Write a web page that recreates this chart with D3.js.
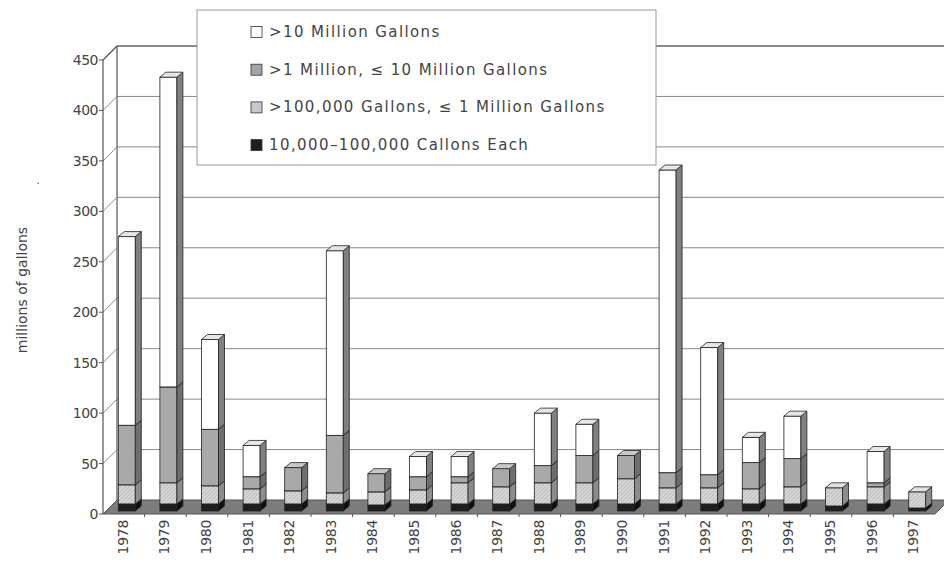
<!DOCTYPE html>
<html>
<head>
<meta charset="utf-8">
<script src="https://cdn.jsdelivr.net/npm/d3@7"></script>
<style>
  body { margin: 0; background: #fff; }
  svg text { font-family: "DejaVu Sans", sans-serif; fill: #444; }
</style>
</head>
<body>
<div id="chart"></div>
<script>
// data (millions of gallons)
const years = ["1978","1979","1980","1981","1982","1983","1984","1985","1986","1987",
               "1988","1989","1990","1991","1992","1993","1994","1995","1996","1997"];
const small = [7,7,7,7,7,7,6,7,7,7,7,7,7,7,7,7,7,5,7,3];            // 10,000-100,000
const mid   = [19,21,18,15,13,11,13,14,21,17,21,21,25,16,16,15,17,18,17,16]; // >100,000 <=1M
const large = [59,95,56,12,23,57,18,13,6,18,17,27,23,15,13,26,28,0,4,0];    // >1M <=10M
const huge  = [187,307,89,31,0,183,0,20,20,0,52,31,0,300,126,25,42,0,31,0]; // >10M
const yTicks = [0,50,100,150,200,250,300,350,400,450];

const keys = ["small","mid","large","huge"];
const legendLabels = [
  ">10 Million Gallons",
  ">1 Million, \u2264 10 Million Gallons",
  ">100,000 Gallons, \u2264 1 Million Gallons",
  "10,000\u2013100,000 Callons Each"
];
const legendKeys = ["huge","large","mid","small"];

const rows = years.map((yr, i) => ({year: yr, small: small[i], mid: mid[i], large: large[i], huge: huge[i]}));

const W = 944, H = 561;
const svg = d3.select("#chart").append("svg").attr("width", W).attr("height", H);

const defs = svg.append("defs");
const pat = defs.append("pattern")
  .attr("id", "hatch").attr("patternUnits", "userSpaceOnUse")
  .attr("width", 4).attr("height", 4);
pat.append("rect").attr("width", 4).attr("height", 4).attr("fill", "#d4d4d4");
pat.append("path").attr("d", "M-1,1 l2,-2 M0,4 l4,-4 M3,5 l2,-2")
  .attr("stroke", "#b0b0b0").attr("stroke-width", 0.7);

const frontFill = {small: "#1e1e1e", mid: "url(#hatch)", large: "#a9a9a9", huge: "#ffffff"};
const sideFill  = {small: "#111", mid: "#8c8c8c", large: "#6e6e6e", huge: "#808080"};
const topFill   = {small: "#444", mid: "#e2e2e2", large: "#c8c8c8", huge: "#e6e6e6"};
const swatch = {small: "#1e1e1e", mid: "#c8c8c8", large: "#a4a4a4", huge: "#ffffff"};

const x = d3.scaleBand().domain(years).range([103, 935]);
const y = d3.scaleLinear().domain([0, 450]).range([514, 60]);

// 3D offsets
const wdx = 14, wdy = -14;   // wall depth
const pdx = 3, pdy = -3;     // bar placement
const bdx = 6, bdy = -5;     // bar depth
const bw = 17;

// back wall gridlines
svg.append("g").selectAll("line").data(yTicks.slice(1)).join("line")
  .attr("x1", 103 + wdx).attr("x2", W)
  .attr("y1", d => y(d) + wdy).attr("y2", d => y(d) + wdy)
  .attr("stroke", "#8a8a8a").attr("stroke-width", 1);

// left wall
svg.append("line").attr("x1", 103 + wdx).attr("x2", 103 + wdx)
  .attr("y1", y(450) + wdy).attr("y2", y(0) + wdy)
  .attr("stroke", "#555").attr("stroke-width", 1.2);
svg.append("g").selectAll("line").data(yTicks).join("line")
  .attr("x1", 103).attr("y1", d => y(d))
  .attr("x2", 103 + wdx).attr("y2", d => y(d) + wdy)
  .attr("stroke", "#8a8a8a").attr("stroke-width", 1);

// floor
const fx0 = x.range()[0], fx1 = x.range()[1];
svg.append("path")
  .attr("d", `M${fx0},${y(0)} L${fx1},${y(0)} L${fx1 + wdx},${y(0) + wdy} L${fx0 + wdx},${y(0) + wdy} Z`)
  .attr("fill", "#7c7c7c").attr("stroke", "#555").attr("stroke-width", 1);
svg.append("g").selectAll("line").data(years.slice(1)).join("line")
  .attr("x1", d => x(d)).attr("x2", d => x(d))
  .attr("y1", y(0)).attr("y2", y(0) + 3)
  .attr("stroke", "#555");

// front y axis
svg.append("line").attr("x1", 103).attr("x2", 103)
  .attr("y1", y(0)).attr("y2", y(450))
  .attr("stroke", "#555").attr("stroke-width", 1.2);
svg.append("line").attr("x1", 103).attr("y1", y(450))
  .attr("x2", 103 + wdx).attr("y2", y(450) + wdy)
  .attr("stroke", "#555").attr("stroke-width", 1.2);
svg.append("line").attr("x1", 103 + wdx).attr("y1", y(450) + wdy)
  .attr("x2", W).attr("y2", y(450) + wdy)
  .attr("stroke", "#555").attr("stroke-width", 1.2);
svg.append("g").selectAll("line").data(yTicks).join("line")
  .attr("x1", 99).attr("x2", 103)
  .attr("y1", d => y(d)).attr("y2", d => y(d))
  .attr("stroke", "#555");
svg.append("g").selectAll("text").data(yTicks).join("text")
  .attr("x", 98).attr("y", d => y(d))
  .attr("text-anchor", "end").attr("dominant-baseline", "central")
  .style("font-size", "14px").style("letter-spacing", "-0.5px")
  .text(d => d);

// bars
const stack = d3.stack().keys(keys)(rows);
const segs = [];
stack.forEach(layer => layer.forEach(d => {
  if (d[1] - d[0] > 0) segs.push({key: layer.key, year: d.data.year, y0: d[0], y1: d[1]});
}));

const gBars = svg.append("g");
years.forEach(yr => {
  const g = gBars.append("g");
  segs.filter(s => s.year === yr).forEach(s => {
    const l = x(yr) + x.bandwidth() / 2 - bw / 2 + pdx;
    const r = l + bw;
    const b = y(s.y0) + pdy, t = y(s.y1) + pdy;
    g.append("rect").attr("x", l).attr("y", t).attr("width", bw).attr("height", b - t)
      .attr("fill", frontFill[s.key]).attr("stroke", "#222").attr("stroke-width", 0.8);
    g.append("path")
      .attr("d", `M${r},${b} L${r + bdx},${b + bdy} L${r + bdx},${t + bdy} L${r},${t} Z`)
      .attr("fill", sideFill[s.key]).attr("stroke", "#222").attr("stroke-width", 0.8);
    g.append("path")
      .attr("d", `M${l},${t} L${r},${t} L${r + bdx},${t + bdy} L${l + bdx},${t + bdy} Z`)
      .attr("fill", topFill[s.key]).attr("stroke", "#222").attr("stroke-width", 0.8);
  });
});

// x labels
svg.append("g").selectAll("text").data(years).join("text")
  .attr("transform", d => `translate(${x(d) + x.bandwidth() / 2 - 1},520) rotate(-90)`)
  .attr("text-anchor", "end").attr("dominant-baseline", "central")
  .style("font-size", "14px").style("letter-spacing", "-0.3px")
  .text(d => d);

// y title
svg.append("text")
  .attr("transform", "translate(22,290) rotate(-90)")
  .attr("text-anchor", "middle").attr("dominant-baseline", "central")
  .style("font-size", "14px")
  .text("millions of gallons");
svg.append("text").attr("x", 38).attr("y", 184)
  .attr("text-anchor", "middle").style("font-size", "10px").text(".");

// legend
const lg = svg.append("g");
lg.append("rect").attr("x", 197).attr("y", 10).attr("width", 459).attr("height", 155)
  .attr("fill", "#fff").attr("stroke", "#999").attr("stroke-width", 1);
legendKeys.forEach((k, i) => {
  const cy = 32 + i * 37.7;
  lg.append("rect").attr("x", 251).attr("y", cy - 5.5).attr("width", 11).attr("height", 11)
    .attr("fill", swatch[k]).attr("stroke", "#333").attr("stroke-width", 0.8);
  lg.append("text").attr("x", 269).attr("y", cy)
    .attr("dominant-baseline", "central")
    .style("font-size", "15px").style("letter-spacing", "1.4px")
    .text(legendLabels[i]);
});
</script>
</body>
</html>
